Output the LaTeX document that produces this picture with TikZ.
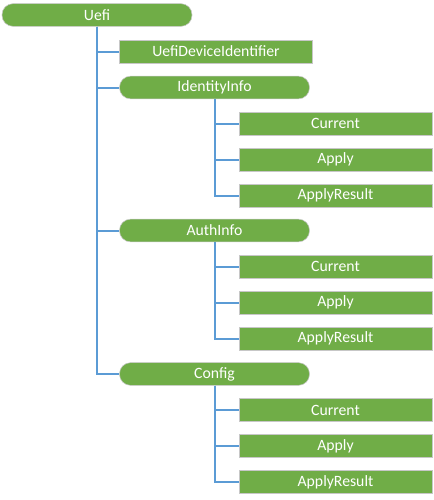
\documentclass[tikz,border=0pt]{standalone}
\usepackage{fontspec}
\setmainfont{Carlito}
\usetikzlibrary{positioning}

\definecolor{leafgreen}{HTML}{70AD47}
\definecolor{linkblue}{HTML}{5B9BD5}

\tikzset{
  pill/.style={draw=white!78!black, fill=leafgreen, text=white, rounded corners=8.25pt,
    minimum width=142.5pt, minimum height=17pt, inner sep=0pt, font=\fontsize{11.8}{14}\selectfont},
  leaf/.style={draw=white!78!black, fill=leafgreen, text=white,
    minimum width=144.5pt, minimum height=17.25pt, inner sep=0pt, font=\fontsize{11.8}{14}\selectfont},
  link/.style={draw=linkblue, line width=1.5pt}
}

\begin{document}
\begin{tikzpicture}[x=0.75pt, y=-0.75pt]

\useasboundingbox (0,0) rectangle (433,500);

% Macro: three leaves below a parent pill
\newcommand{\leafgroup}[2]{
    \foreach \lbl/\nm [count=\i] in {Current/cur, Apply/app, ApplyResult/res} {
        \node[leaf] (#1-\nm) at (335.5, {#2+36*(\i-1)}) {\lbl};
        \draw[link] (#1.south) |- (#1-\nm.west);
    }
}

% Root
\node[pill] (uefi) at (97,15) {Uefi};

% Second level
\node[leaf] (devid) at (216,51.5) {UefiDeviceIdentifier};
\node[pill] (identity) at (214.5,87.5) {IdentityInfo};
\node[pill] (auth) at (214.5,230.5) {AuthInfo};
\node[pill] (config) at (214.5,374) {Config};

% Trunk
\foreach \child in {devid, identity, auth, config} {
    \draw[link] (uefi.south) |- (\child.west);
}

% Leaves
\leafgroup{identity}{123.5}
\leafgroup{auth}{266.5}
\leafgroup{config}{410}

\end{tikzpicture}
\end{document}
